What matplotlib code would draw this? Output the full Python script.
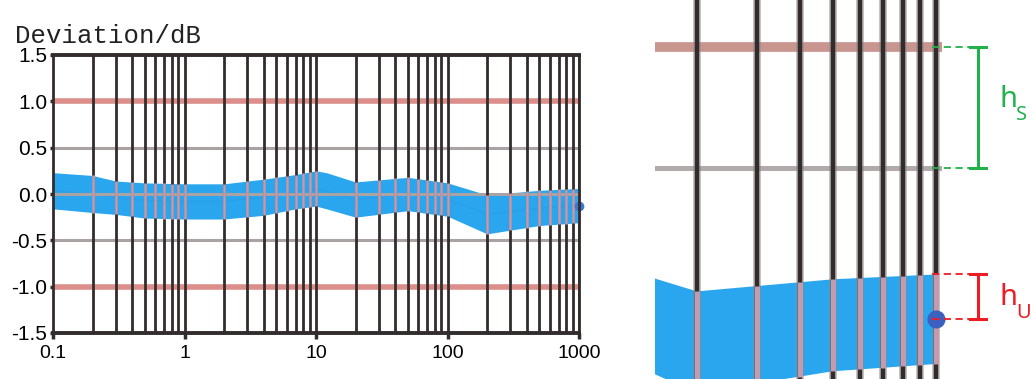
import numpy as np
import matplotlib.pyplot as plt
from matplotlib.transforms import blended_transform_factory

# deviation band, measured points (Hz on a log axis)
freq = [0.1, 0.2, 0.3, 0.5, 1, 2, 4, 7, 10, 12, 20, 50, 100, 200, 500, 1000]
upper = [0.23, 0.20, 0.14, 0.12, 0.11, 0.11, 0.16, 0.21, 0.25, 0.23, 0.13, 0.18, 0.12, -0.01, 0.04, 0.06]
lower = [-0.16, -0.20, -0.22, -0.26, -0.27, -0.27, -0.23, -0.16, -0.13, -0.16, -0.25, -0.18, -0.24, -0.43, -0.34, -0.31]

yticks = [1.5, 1.0, 0.5, 0.0, -0.5, -1.0, -1.5]
ytick_labels = ['1.5', '1.0', '0.5', '0.0', '-0.5', '-1.0', '-1.5']
xticks = [0.1, 1, 10, 100, 1000]
xtick_labels = ['0.1', '1', '10', '100', '1000']
tol_lines = [1.0, -1.0]
ref_lines = [0.5, 0.0, -0.5]

BLUE = '#2aa6ee'
PINK = '#dc8f8a'
GREY = '#a9a3a3'
DARK = '#332c2c'
OVER = '#c49aae'   # grid colour where it crosses the band

lf = np.log10(freq)
center = (np.array(upper) + np.array(lower)) / 2
grid_x = [m * 10.0**e for e in (-1, 0, 1, 2) for m in range(1, 10)][1:] + [1000]


def band_at(x):
    return (np.interp(np.log10(x), lf, lower), np.interp(np.log10(x), lf, upper))


fig = plt.figure(figsize=(10.33, 3.79), dpi=100)
W, H = 1033, 379

# ---- main chart ----
ax = fig.add_axes([53 / W, 1 - 333 / H, (579 - 53) / W, (333 - 55) / H])
ax.set_xscale('log')
ax.set_xlim(0.1, 1000)
ax.set_ylim(-1.5, 1.5)

ax.fill_between(freq, lower, upper, color=BLUE, lw=0, zorder=1)
ax.plot(freq, center, color='#2a86d6', lw=1, alpha=0.2, zorder=1.5)
for y in ref_lines:
    ax.axhline(y, color=GREY, lw=2.2, zorder=2)
for y in tol_lines:
    ax.axhline(y, color=PINK, lw=4.0, zorder=2)
ax.vlines(grid_x, -1.5, 1.5, color=DARK, lw=2.0, zorder=3)
lo, hi = band_at(np.array(grid_x))
ax.vlines(grid_x, lo, hi, color=OVER, lw=2.0, zorder=4, clip_on=False)
ax.plot(freq[-1], center[-1], 'o', color='#3b78cc', ms=7, mew=0, zorder=5, clip_on=False)

for s in ax.spines.values():
    s.set_color(DARK)
    s.set_zorder(6)
ax.spines['left'].set_linewidth(2.0)
ax.spines['right'].set_linewidth(2.0)
ax.spines['top'].set_linewidth(2.8)
ax.spines['bottom'].set_linewidth(2.8)

ax.set_yticks(yticks)
ax.set_yticklabels(ytick_labels, fontfamily='Liberation Sans', fontsize=15)
ax.set_xticks(xticks)
ax.set_xticklabels(xtick_labels, fontfamily='Liberation Sans', fontsize=14)
ax.xaxis.set_minor_locator(plt.NullLocator())
ax.tick_params(axis='y', length=2.5, width=2.5, pad=1.5, color=DARK)
ax.tick_params(axis='x', length=4, width=2.5, pad=5, color=DARK)

fig.text(15 / W, 1 - 43 / H, 'Deviation/dB', fontfamily='Liberation Mono',
         fontsize=18.5, va='baseline', ha='left', color='#222222')

# ---- magnified view of the high-frequency end ----
ax2 = fig.add_axes([655 / W, 0, (942 - 655) / W, 1])
ax2.set_xscale('log')
ax2.set_xlim(150.8, 1041)
ax2.set_ylim(-0.372, 1.194)
ax2.axis('off')

ax2.fill_between(freq, lower, upper, color=BLUE, lw=0, zorder=1)
ax2.axhline(1.0, color='#c9958f', lw=7, zorder=2)
ax2.axhline(0.5, color='#b0aaaa', lw=3.6, zorder=2)
zoom_x = [x for x in grid_x if x >= 200]
ax2.vlines(zoom_x, -0.372, 1.194, color='#8f8787', lw=5.5, alpha=0.6, zorder=3)
ax2.vlines(zoom_x, -0.372, 1.194, color=DARK, lw=3.2, zorder=3)
lo, hi = band_at(np.array(zoom_x))
ax2.vlines(zoom_x, lo, hi, color=OVER, lw=3.6, zorder=4)
ax2.plot(freq[-1], center[-1], 'o', color='#3b60c0', ms=13, mew=0, zorder=5, clip_on=False)

# h_S / h_U markers, x in figure pixels, y in the magnified view's dB
tr = blended_transform_factory(fig.transFigure, ax2.transData)
GREEN = '#22b14c'
RED = '#ee1c24'


def bracket(y0, y1, col, sub, base_off):
    for y in (y0, y1):
        ax2.plot([932 / W, 975 / W], [y, y], color=col, lw=1.3, ls=(0, (4, 2.5)),
                 transform=tr, clip_on=False, zorder=7)
        ax2.plot([970 / W, 986 / W], [y, y], color=col, lw=2.2,
                 transform=tr, clip_on=False, zorder=7)
    ax2.plot([978 / W, 978 / W], [y0, y1], color=col, lw=2.2,
             transform=tr, clip_on=False, zorder=7)
    mid = (y0 + y1) / 2
    ax2.annotate('h', xy=(999 / W, mid), xycoords=tr, xytext=(0, base_off),
                 textcoords='offset pixels', color=col, fontfamily='Noto Sans',
                 fontsize=21, va='baseline', ha='left', annotation_clip=False)
    ax2.annotate(sub, xy=(1016 / W, mid), xycoords=tr, xytext=(0, base_off - 13),
                 textcoords='offset pixels', color=col, fontfamily='Noto Sans',
                 fontsize=14.5, va='baseline', ha='left', annotation_clip=False)


bracket(tol_lines[0], ref_lines[0], GREEN, 'S', 0)
bracket(upper[-1], center[-1], RED, 'U', -8)

fig.savefig('out.png', dpi=100)
